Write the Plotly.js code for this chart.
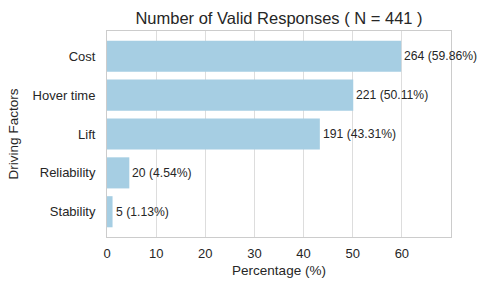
<!DOCTYPE html>
<html>
<head>
<meta charset="utf-8">
<script src="https://cdn.plot.ly/plotly-3.0.1.min.js"></script>
<style>html,body{margin:0;padding:0;background:#fff;}#chart{width:496px;height:290px;}</style>
</head>
<body>
<div id="chart"></div>
<script>
const categories = ["Cost", "Hover time", "Lift", "Reliability", "Stability"];
const counts = [264, 221, 191, 20, 5];
const percentages = [59.86, 50.11, 43.31, 4.54, 1.13];
const totalN = 441;

const labels = categories.map((c, i) => `${counts[i]} (${percentages[i].toFixed(2)}%)`);
const FONT = "Liberation Sans, Arial, sans-serif";
const TXT = "#262626";

const trace = {
  type: "bar",
  orientation: "h",
  x: percentages,
  y: categories,
  width: 0.8,
  marker: {color: "#a6cee3", line: {width: 0}},
  hoverinfo: "skip"
};

const annotations = categories.map((c, i) => ({
  x: percentages[i], y: c, xref: "x", yref: "y",
  text: labels[i], showarrow: false, xanchor: "left", yanchor: "middle",
  xshift: 1, font: {family: FONT, size: 12.2, color: TXT}
}));

const layout = {
  width: 496, height: 290,
  margin: {l: 107, r: 45, t: 31, b: 53},
  paper_bgcolor: "#fff", plot_bgcolor: "#fff",
  showlegend: false,
  title: {text: `Number of Valid Responses ( N = ${totalN} )`, x: 0.5, xref: "paper", xanchor: "center", y: 0.938, yanchor: "middle", yref: "container", font: {family: FONT, size: 16.5, color: TXT}},
  xaxis: {
    range: [0, 70], tickvals: [0, 10, 20, 30, 40, 50, 60],
    showgrid: true, gridcolor: "#dddddd", gridwidth: 1, zeroline: false,
    showline: true, mirror: true, linecolor: "#cccccc", linewidth: 1,
    ticks: "outside", ticklen: 4, tickcolor: "rgba(0,0,0,0)",
    tickfont: {family: FONT, size: 13, color: TXT},
    title: {text: "Percentage (%)", font: {family: FONT, size: 13.5, color: TXT}, standoff: 5}
  },
  yaxis: {
    type: "category", categoryorder: "array", categoryarray: categories,
    range: [4.65, -0.65], autorange: false,
    showgrid: false, zeroline: false,
    showline: true, mirror: true, linecolor: "#cccccc", linewidth: 1,
    ticks: "outside", ticklen: 8, tickcolor: "rgba(0,0,0,0)",
    tickfont: {family: FONT, size: 13, color: TXT},
    title: {text: "Driving Factors", font: {family: FONT, size: 13.5, color: TXT}, standoff: 10}
  },
  annotations: annotations
};

Plotly.newPlot("chart", [trace], layout, {staticPlot: true, displayModeBar: false});
</script>
</body>
</html>
